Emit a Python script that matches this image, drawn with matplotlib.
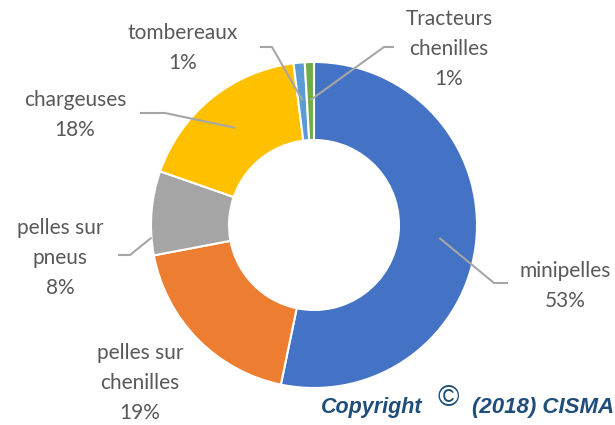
import numpy as np
import matplotlib.pyplot as plt

# Données (parts du parc, %)
categories = ["minipelles", "pelles sur\nchenilles", "pelles sur\npneus",
              "chargeuses", "tombereaux", "Tracteurs\nchenilles"]
parts = [53.1, 18.7, 8.3, 17.6, 1.1, 0.9]
couleurs = ["#4472C4", "#ED7D31", "#A5A5A5", "#FFC000", "#5B9BD5", "#70AD47"]

# Mise en page (pixels, origine en bas à gauche)
W, H = 615, 425
centre = (314, 200)
R_ext = 163
epaisseur = 78

# position des étiquettes et traits de rappel
pos_texte = [(565, 139), (140, 42), (60, 167), (75, 310), (183, 377), (449, 376)]
ancre = [(0.5, 126), None, (0.79, 163), (0.5, 125), (0.5, 125), (0.5, 125)]
coude = [[(494, 142), (508, 142)], None, [(130, 170), (118, 170)],
         [(165, 312), (140, 312)], [(272, 378), (260, 378)],
         [(384, 378), (394, 378)]]

fig = plt.figure(figsize=(W / 100, H / 100), dpi=100)
ax = fig.add_axes([0, 0, 1, 1])

wedges, _ = ax.pie(parts, colors=couleurs, startangle=90, counterclock=False,
                   center=centre, radius=R_ext, frame=True,
                   wedgeprops=dict(width=epaisseur, edgecolor="white", linewidth=1.5))
ax.set_xlim(0, W)
ax.set_ylim(0, H)
ax.set_aspect("equal")
ax.axis("off")

for i, w in enumerate(wedges):
    txt = f"{categories[i]}\n{parts[i]:.0f}%"
    ax.text(pos_texte[i][0], pos_texte[i][1], txt, ha="center", va="center",
            fontsize=15, color="#595959", family="Lato", linespacing=1.6)
    if ancre[i] is None:
        continue
    f, r = ancre[i]
    ang = np.deg2rad(w.theta1 + f * (w.theta2 - w.theta1))
    x0 = centre[0] + r * np.cos(ang)
    y0 = centre[1] + r * np.sin(ang)
    xs = [x0] + [p[0] for p in coude[i]]
    ys = [y0] + [p[1] for p in coude[i]]
    ax.plot(xs, ys, color="#A6A6A6", lw=1.5, solid_capstyle="butt")

# copyright
style_c = dict(color="#1F4E79", family="Liberation Sans", fontweight="bold",
               style="italic", va="baseline")
ax.text(321, 12, "Copyright", ha="left", fontsize=15.5, **style_c)
ax.text(448, 19, "\u00a9", ha="center", fontsize=21, color="#1F4E79",
        family="Liberation Sans", va="baseline")
ax.text(614, 12, "(2018) CISMA", ha="right", fontsize=16, **style_c)

fig.savefig("out.png", dpi=100)
